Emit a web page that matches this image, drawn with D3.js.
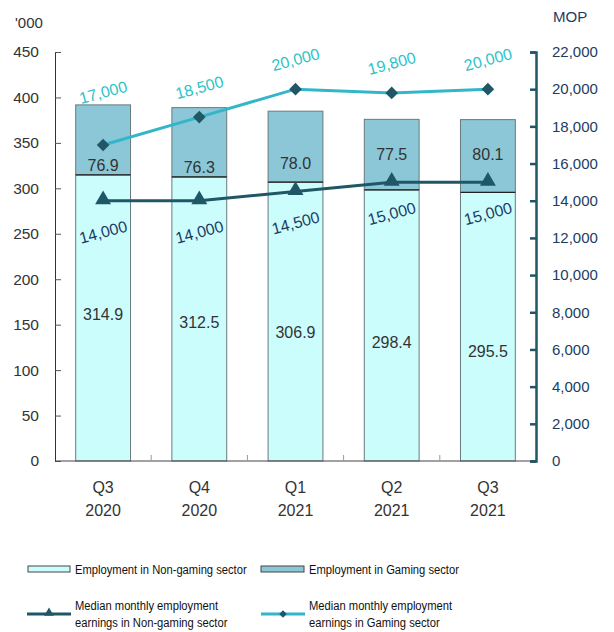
<!DOCTYPE html>
<html>
<head>
<meta charset="utf-8">
<script src="https://cdn.jsdelivr.net/npm/d3@7"></script>
<style>
	body { margin: 0; background: #fff; }
	svg text { font-family: "Liberation Sans", Arial, sans-serif; }
</style>
</head>
<body>
<div id="idContent"></div>
<script>
var aQuarters = ["Q3", "Q4", "Q1", "Q2", "Q3"],
	aYears = ["2020", "2020", "2021", "2021", "2021"],
	aNonGaming = [314.9, 312.5, 306.9, 298.4, 295.5],
	aGaming = [76.9, 76.3, 78.0, 77.5, 80.1],
	aEarnNonGaming = [14000, 14000, 14500, 15000, 15000],
	aEarnGaming = [17000, 18500, 20000, 19800, 20000],
	aLeftTicks = [0, 50, 100, 150, 200, 250, 300, 350, 400, 450],
	aRightTicks = [0, 2000, 4000, 6000, 8000, 10000, 12000, 14000, 16000, 18000, 20000, 22000];

var cLight = "#ccfdfd", cGaming = "#8bc7d6", cDark = "#1f5767", cLine = "#33b6c9",
	cLabelLight = "#2cc3c8", cNavy = "#1b3c64", cText = "#333";

var margin = { top: 52, left: 55, right: 78, bottom: 171 },
	width = 614 - margin.left - margin.right,
	height = 632 - margin.top - margin.bottom;

var svg = d3.select("#idContent").append("svg")
	.attr("width", 614)
	.attr("height", 632);
var oChart = svg.append("g")
	.attr("transform", "translate(" + margin.left + "," + margin.top + ")");

var aIdx = d3.range(aQuarters.length);
var x = d3.scaleBand().domain(aIdx).range([0, width]).paddingInner(0.43).paddingOuter(0.215);
var xb = d3.scaleBand().domain(aIdx).range([0, width]);
var yL = d3.scaleLinear().domain([0, 450]).range([height, 0]);
var yR = d3.scaleLinear().domain([0, 22000]).range([height, 0]);

// bars
aIdx.forEach(function (i) {
	oChart.append("rect")
		.attr("x", x(i)).attr("width", x.bandwidth())
		.attr("y", yL(aNonGaming[i])).attr("height", height - yL(aNonGaming[i]))
		.attr("fill", cLight).attr("stroke", "#6a7a7c").attr("stroke-width", 1);
	oChart.append("rect")
		.attr("x", x(i)).attr("width", x.bandwidth())
		.attr("y", yL(aNonGaming[i] + aGaming[i])).attr("height", yL(aNonGaming[i]) - yL(aNonGaming[i] + aGaming[i]))
		.attr("fill", cGaming).attr("stroke", "#6a7a7c").attr("stroke-width", 1);
	oChart.append("line")
		.attr("x1", x(i)).attr("x2", x(i) + x.bandwidth())
		.attr("y1", yL(aNonGaming[i])).attr("y2", yL(aNonGaming[i]))
		.attr("stroke", "#222").attr("stroke-width", 1.2);
});

// left axis
var gL = oChart.append("g").call(d3.axisLeft(yL).tickValues(aLeftTicks).tickSize(-6).tickPadding(16));
gL.select(".domain").attr("stroke", "#333");
gL.selectAll(".tick line").attr("stroke", "#555");
gL.selectAll("text").attr("font-size", "15.5px").attr("fill", cText)
	.attr("font-family", "Liberation Sans, Arial, sans-serif");

// right axis
var gR = oChart.append("g").attr("transform", "translate(" + width + ",0)")
	.call(d3.axisRight(yR).tickValues(aRightTicks).tickSize(-6).tickPadding(16).tickFormat(d3.format(",")));
gR.select(".domain").attr("stroke", cDark).attr("stroke-width", 2.5);
gR.selectAll(".tick line").attr("stroke", cDark).attr("stroke-width", 2.5);
gR.selectAll("text").attr("font-size", "15px").attr("fill", cNavy)
	.attr("font-family", "Liberation Sans, Arial, sans-serif");

// bottom axis
oChart.append("line").attr("x1", 0).attr("x2", width).attr("y1", height).attr("y2", height)
	.attr("stroke", "#444").attr("stroke-width", 1);
aIdx.slice(1).forEach(function (i) {
	oChart.append("line").attr("x1", xb(i)).attr("x2", xb(i)).attr("y1", height).attr("y2", height - 6)
		.attr("stroke", "#999");
});
aIdx.forEach(function (i) {
	var cx = x(i) + x.bandwidth() / 2;
	oChart.append("text").attr("x", cx).attr("y", height + 32).attr("text-anchor", "middle")
		.attr("font-size", "16px").attr("fill", cText).text(aQuarters[i]);
	oChart.append("text").attr("x", cx).attr("y", height + 55).attr("text-anchor", "middle")
		.attr("font-size", "16px").attr("fill", cText).text(aYears[i]);
});

// unit labels
svg.append("text").attr("x", 15).attr("y", 28).attr("font-size", "15px").attr("fill", cText).text("'000");
svg.append("text").attr("x", 553).attr("y", 22).attr("font-size", "15px").attr("fill", cNavy).text("MOP");

// bar value labels
aIdx.forEach(function (i) {
	var cx = x(i) + x.bandwidth() / 2;
	oChart.append("text").attr("x", cx).attr("y", (yL(0) + yL(aNonGaming[i])) / 2 + 2 + i * 7)
		.attr("text-anchor", "middle").attr("font-size", "16px").attr("fill", cText)
		.text(d3.format(".1f")(aNonGaming[i]));
	// keep the gaming label clear of the triangle marker
	var by = Math.min(yL(aNonGaming[i]) - 4, yR(aEarnNonGaming[i]) - 22);
	oChart.append("text").attr("x", cx).attr("y", by)
		.attr("text-anchor", "middle").attr("font-size", "16px").attr("fill", cText)
		.text(d3.format(".1f")(aGaming[i]));
});

// lines
var line = function (aData) {
	return d3.line()
		.x(function (d, i) { return x(i) + x.bandwidth() / 2; })
		.y(function (d) { return yR(d); })(aData);
};
oChart.append("path").attr("d", line(aEarnNonGaming)).attr("fill", "none")
	.attr("stroke", cDark).attr("stroke-width", 3);
oChart.append("path").attr("d", line(aEarnGaming)).attr("fill", "none")
	.attr("stroke", cLine).attr("stroke-width", 3);

var triangle = d3.symbol().type(d3.symbolTriangle).size(110);
var diamond = d3.symbol().type(d3.symbolSquare).size(80);
aIdx.forEach(function (i) {
	var cx = x(i) + x.bandwidth() / 2;
	oChart.append("path").attr("d", triangle())
		.attr("transform", "translate(" + cx + "," + (yR(aEarnNonGaming[i]) - 1) + ")")
		.attr("fill", cDark);
	oChart.append("path").attr("d", diamond())
		.attr("transform", "translate(" + cx + "," + yR(aEarnGaming[i]) + ") rotate(45)")
		.attr("fill", cDark);

	var yTop = yL(aNonGaming[i] + aGaming[i]);
	var ly = Math.min(yR(aEarnGaming[i]) - 30, yTop - 13);
	oChart.append("text").attr("x", cx).attr("y", ly + 6)
		.attr("transform", "rotate(-15," + cx + "," + ly + ")")
		.attr("text-anchor", "middle").attr("font-size", "16px").attr("fill", cLabelLight)
		.text(d3.format(",")(aEarnGaming[i]));
	var ny = yR(aEarnNonGaming[i]) + 31;
	oChart.append("text").attr("x", cx).attr("y", ny + 6)
		.attr("transform", "rotate(-15," + cx + "," + ny + ")")
		.attr("text-anchor", "middle").attr("font-size", "16px").attr("fill", cNavy)
		.text(d3.format(",")(aEarnNonGaming[i]));
});

// legend
var oLegend = svg.append("g").attr("font-size", "13.5px").attr("fill", "#111");
function legendText(px, py, s) {
	oLegend.append("text").attr("transform", "translate(" + px + "," + py + ") scale(0.83,1)").text(s);
}
oLegend.append("rect").attr("x", 28).attr("y", 566).attr("width", 42).attr("height", 6)
	.attr("fill", cLight).attr("stroke", "#444");
legendText(75, 574, "Employment in Non-gaming sector");
oLegend.append("rect").attr("x", 261).attr("y", 566).attr("width", 43).attr("height", 6)
	.attr("fill", cGaming).attr("stroke", "#444");
legendText(309, 574, "Employment in Gaming sector");

oLegend.append("line").attr("x1", 27).attr("x2", 71).attr("y1", 614).attr("y2", 614)
	.attr("stroke", cDark).attr("stroke-width", 3);
oLegend.append("path").attr("d", d3.symbol().type(d3.symbolTriangle).size(40)())
	.attr("transform", "translate(49,613)").attr("fill", cDark);
legendText(75, 610, "Median monthly employment");
legendText(75, 627, "earnings in Non-gaming sector");

oLegend.append("line").attr("x1", 261).attr("x2", 305).attr("y1", 614).attr("y2", 614)
	.attr("stroke", cLine).attr("stroke-width", 3);
oLegend.append("path").attr("d", d3.symbol().type(d3.symbolSquare).size(28)())
	.attr("transform", "translate(283,614) rotate(45)").attr("fill", cDark);
legendText(309, 610, "Median monthly employment");
legendText(309, 627, "earnings in Gaming sector");
</script>
</body>
</html>
